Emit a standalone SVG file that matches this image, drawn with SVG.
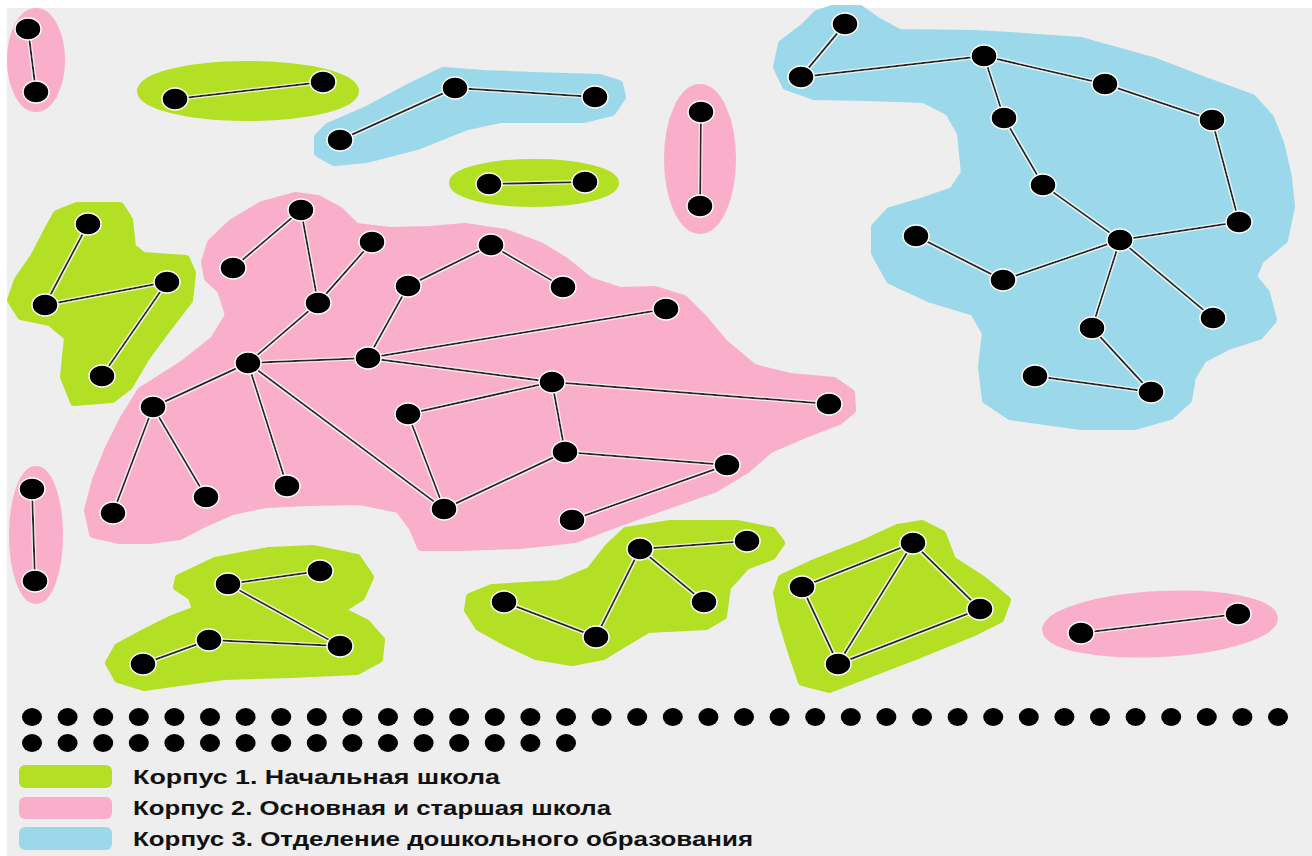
<svg xmlns="http://www.w3.org/2000/svg" xmlns:xlink="http://www.w3.org/1999/xlink" width="1312" height="856" viewBox="0 0 1312 856">
<style>
.pink{fill:#f9afc9;stroke:#f9afc9;stroke-width:8;stroke-linejoin:round}
.green{fill:#b3e024;stroke:#b3e024;stroke-width:8;stroke-linejoin:round}
.blue{fill:#9ad8ea;stroke:#9ad8ea;stroke-width:8;stroke-linejoin:round}
.e{stroke:#262626;stroke-width:2;fill:none}
.lg{font-family:"Liberation Sans",Arial,sans-serif;font-weight:bold;font-size:21px;fill:#111}
</style>
<defs>
<ellipse id="nd" cx="0" cy="0" rx="13" ry="11" fill="#000" stroke="#fff" stroke-width="1.5"/>
<ellipse id="dot" cx="0" cy="0" rx="10" ry="9" fill="#000"/>
<filter id="halo" x="-5%" y="-5%" width="110%" height="110%">
<feMorphology in="SourceAlpha" operator="dilate" radius="1" result="d"/>
<feFlood flood-color="#ffffff" flood-opacity="0.8"/>
<feComposite in2="d" operator="in" result="w"/>
<feMerge><feMergeNode in="w"/><feMergeNode in="SourceGraphic"/></feMerge>
</filter>
</defs>
<rect width="1312" height="856" fill="#ffffff"/>
<rect x="7" y="8" width="1305" height="848" fill="#eeeeee"/>

<g id="regions">
<ellipse class="pink" cx="36" cy="60" rx="25" ry="48"/>
<ellipse class="green" cx="248" cy="91" rx="107" ry="26"/>
<polygon class="blue" points="318,137 328,127 367,110 410,87 443,71 483,74 533,76 600,78 619,84 622,97 612,112 583,119 500,119 467,126 417,146 367,159 334,162 318,153"/>
<ellipse class="green" cx="534" cy="183" rx="81" ry="20"/>
<ellipse class="pink" cx="700" cy="159" rx="32" ry="71"/>
<polygon class="green" points="57,214 77,206 120,206 129,220 132,247 143,256 186,259 192,273 189,300 166,330 146,357 129,386 112,399 74,402 64,377 68,337 50,322 21,316 11,300 18,280 34,257 48,230"/>
<polygon class="pink" points="205,262 211,243 232,223 262,205 295,196 318,199 340,211 356,227 390,231 430,230 465,227 505,233 540,246 565,261 590,281 620,291 655,290 684,299 704,319 724,343 754,368 790,377 834,381 851,393 852,410 839,421 805,434 770,449 747,469 714,489 665,506 615,524 575,539 520,545 460,547 421,547 413,528 399,509 360,501 310,502 265,504 232,511 205,523 180,536 150,540 120,540 93,534 88,510 96,480 109,448 123,420 141,391 185,363 214,340 229,315 221,290 208,278"/>
<polygon class="blue" points="832,9 860,9 877,21 899,33 974,34 1010,36 1081,41 1153,61 1205,81 1252,98 1270,118 1280,143 1288,177 1291,207 1284,240 1260,260 1253,277 1266,293 1273,320 1259,336 1228,346 1203,359 1192,377 1188,400 1170,416 1135,426 1081,426 1010,416 986,400 982,367 986,333 974,312 931,299 890,280 875,253 875,227 890,211 924,201 953,191 965,173 961,133 949,112 924,99 867,97 814,96 786,86 777,67 782,44 803,28 817,14"/>
<ellipse class="pink" cx="36" cy="535" rx="23" ry="65"/>
<polygon class="green" points="179,578 215,561 269,551 313,549 357,558 370,577 361,597 340,610 366,623 381,640 379,659 357,671 291,674 224,676 179,682 144,687 118,679 109,663 118,647 144,633 170,620 196,610 192,597 177,587"/>
<polygon class="green" points="470,597 492,588 559,584 590,571 608,548 626,531 670,524 737,524 772,531 781,543 772,556 746,566 727,587 723,616 706,626 648,629 626,642 603,656 572,662 536,656 506,642 479,627 468,610"/>
<polygon class="green" points="777,593 782,578 812,564 863,544 898,528 922,524 942,534 952,560 983,580 1007,600 1000,619 974,632 915,656 863,676 829,689 802,682 792,653 782,620"/>
<ellipse class="pink" cx="1160" cy="624" rx="114" ry="29" transform="rotate(-3 1160 624)"/>
</g>

<g id="connectors" filter="url(#halo)">
<line class="e" x1="28" y1="29" x2="36" y2="92"/>
<line class="e" x1="175" y1="99" x2="323" y2="82"/>
<line class="e" x1="340" y1="140" x2="455" y2="88"/>
<line class="e" x1="455" y1="88" x2="595" y2="97"/>
<line class="e" x1="489" y1="184" x2="585" y2="182"/>
<line class="e" x1="701" y1="112" x2="700" y2="206"/>
<line class="e" x1="88" y1="224" x2="45" y2="305"/>
<line class="e" x1="45" y1="305" x2="167" y2="282"/>
<line class="e" x1="167" y1="282" x2="102" y2="376"/>
<line class="e" x1="301" y1="210" x2="233" y2="268"/>
<line class="e" x1="301" y1="210" x2="318" y2="303"/>
<line class="e" x1="372" y1="242" x2="318" y2="303"/>
<line class="e" x1="318" y1="303" x2="248" y2="363"/>
<line class="e" x1="248" y1="363" x2="368" y2="358"/>
<line class="e" x1="248" y1="363" x2="153" y2="407"/>
<line class="e" x1="153" y1="407" x2="113" y2="513"/>
<line class="e" x1="153" y1="407" x2="206" y2="497"/>
<line class="e" x1="248" y1="363" x2="287" y2="486"/>
<line class="e" x1="248" y1="363" x2="444" y2="509"/>
<line class="e" x1="368" y1="358" x2="408" y2="286"/>
<line class="e" x1="408" y1="286" x2="491" y2="245"/>
<line class="e" x1="491" y1="245" x2="563" y2="287"/>
<line class="e" x1="368" y1="358" x2="666" y2="309"/>
<line class="e" x1="368" y1="358" x2="552" y2="382"/>
<line class="e" x1="552" y1="382" x2="408" y2="414"/>
<line class="e" x1="408" y1="414" x2="444" y2="509"/>
<line class="e" x1="552" y1="382" x2="829" y2="404"/>
<line class="e" x1="552" y1="382" x2="565" y2="452"/>
<line class="e" x1="565" y1="452" x2="444" y2="509"/>
<line class="e" x1="565" y1="452" x2="727" y2="465"/>
<line class="e" x1="727" y1="465" x2="572" y2="520"/>
<line class="e" x1="845" y1="24" x2="801" y2="77"/>
<line class="e" x1="801" y1="77" x2="984" y2="56"/>
<line class="e" x1="984" y1="56" x2="1105" y2="84"/>
<line class="e" x1="984" y1="56" x2="1004" y2="118"/>
<line class="e" x1="1105" y1="84" x2="1212" y2="120"/>
<line class="e" x1="1004" y1="118" x2="1043" y2="185"/>
<line class="e" x1="1043" y1="185" x2="1120" y2="240"/>
<line class="e" x1="1212" y1="120" x2="1239" y2="222"/>
<line class="e" x1="1239" y1="222" x2="1120" y2="240"/>
<line class="e" x1="1120" y1="240" x2="1003" y2="280"/>
<line class="e" x1="1003" y1="280" x2="916" y2="236"/>
<line class="e" x1="1120" y1="240" x2="1092" y2="328"/>
<line class="e" x1="1120" y1="240" x2="1213" y2="318"/>
<line class="e" x1="1092" y1="328" x2="1151" y2="392"/>
<line class="e" x1="1151" y1="392" x2="1035" y2="376"/>
<line class="e" x1="32" y1="489" x2="35" y2="581"/>
<line class="e" x1="228" y1="584" x2="320" y2="571"/>
<line class="e" x1="228" y1="584" x2="340" y2="646"/>
<line class="e" x1="209" y1="640" x2="340" y2="646"/>
<line class="e" x1="209" y1="640" x2="143" y2="664"/>
<line class="e" x1="504" y1="602" x2="596" y2="637"/>
<line class="e" x1="596" y1="637" x2="640" y2="549"/>
<line class="e" x1="640" y1="549" x2="747" y2="541"/>
<line class="e" x1="640" y1="549" x2="704" y2="602"/>
<line class="e" x1="802" y1="587" x2="913" y2="543"/>
<line class="e" x1="913" y1="543" x2="838" y2="664"/>
<line class="e" x1="913" y1="543" x2="980" y2="609"/>
<line class="e" x1="802" y1="587" x2="838" y2="664"/>
<line class="e" x1="838" y1="664" x2="980" y2="609"/>
<line class="e" x1="1081" y1="633" x2="1238" y2="614"/>
</g>

<g id="nodes">
<g id="pa1"><use href="#nd" x="28" y="29"/></g>
<g id="pa2"><use href="#nd" x="36" y="92"/></g>
<g id="ga1"><use href="#nd" x="175" y="99"/></g>
<g id="ga2"><use href="#nd" x="323" y="82"/></g>
<g id="ba1"><use href="#nd" x="340" y="140"/></g>
<g id="ba2"><use href="#nd" x="455" y="88"/></g>
<g id="ba3"><use href="#nd" x="595" y="97"/></g>
<g id="gb1"><use href="#nd" x="489" y="184"/></g>
<g id="gb2"><use href="#nd" x="585" y="182"/></g>
<g id="pb1"><use href="#nd" x="701" y="112"/></g>
<g id="pb2"><use href="#nd" x="700" y="206"/></g>
<g id="gc1"><use href="#nd" x="88" y="224"/></g>
<g id="gc2"><use href="#nd" x="45" y="305"/></g>
<g id="gc3"><use href="#nd" x="167" y="282"/></g>
<g id="gc4"><use href="#nd" x="102" y="376"/></g>
<g id="pA"><use href="#nd" x="301" y="210"/></g>
<g id="pB"><use href="#nd" x="233" y="268"/></g>
<g id="pC"><use href="#nd" x="372" y="242"/></g>
<g id="pD"><use href="#nd" x="318" y="303"/></g>
<g id="pE"><use href="#nd" x="491" y="245"/></g>
<g id="pF"><use href="#nd" x="408" y="286"/></g>
<g id="pG"><use href="#nd" x="563" y="287"/></g>
<g id="pH"><use href="#nd" x="666" y="309"/></g>
<g id="pI"><use href="#nd" x="248" y="363"/></g>
<g id="pJ"><use href="#nd" x="368" y="358"/></g>
<g id="pK"><use href="#nd" x="153" y="407"/></g>
<g id="pL"><use href="#nd" x="113" y="513"/></g>
<g id="pM"><use href="#nd" x="206" y="497"/></g>
<g id="pN"><use href="#nd" x="287" y="486"/></g>
<g id="pO"><use href="#nd" x="552" y="382"/></g>
<g id="pP"><use href="#nd" x="408" y="414"/></g>
<g id="pQ"><use href="#nd" x="829" y="404"/></g>
<g id="pR"><use href="#nd" x="565" y="452"/></g>
<g id="pS"><use href="#nd" x="727" y="465"/></g>
<g id="pT"><use href="#nd" x="444" y="509"/></g>
<g id="pU"><use href="#nd" x="572" y="520"/></g>
<g id="b1"><use href="#nd" x="845" y="24"/></g>
<g id="b2"><use href="#nd" x="801" y="77"/></g>
<g id="b3"><use href="#nd" x="984" y="56"/></g>
<g id="b4"><use href="#nd" x="1105" y="84"/></g>
<g id="b5"><use href="#nd" x="1004" y="118"/></g>
<g id="b6"><use href="#nd" x="1212" y="120"/></g>
<g id="b7"><use href="#nd" x="1043" y="185"/></g>
<g id="b8"><use href="#nd" x="1239" y="222"/></g>
<g id="b9"><use href="#nd" x="1120" y="240"/></g>
<g id="b10"><use href="#nd" x="916" y="236"/></g>
<g id="b11"><use href="#nd" x="1003" y="280"/></g>
<g id="b12"><use href="#nd" x="1213" y="318"/></g>
<g id="b13"><use href="#nd" x="1092" y="328"/></g>
<g id="b14"><use href="#nd" x="1035" y="376"/></g>
<g id="b15"><use href="#nd" x="1151" y="392"/></g>
<g id="pc1"><use href="#nd" x="32" y="489"/></g>
<g id="pc2"><use href="#nd" x="35" y="581"/></g>
<g id="gd1"><use href="#nd" x="228" y="584"/></g>
<g id="gd2"><use href="#nd" x="320" y="571"/></g>
<g id="gd3"><use href="#nd" x="209" y="640"/></g>
<g id="gd4"><use href="#nd" x="340" y="646"/></g>
<g id="gd5"><use href="#nd" x="143" y="664"/></g>
<g id="ge1"><use href="#nd" x="504" y="602"/></g>
<g id="ge2"><use href="#nd" x="596" y="637"/></g>
<g id="ge3"><use href="#nd" x="640" y="549"/></g>
<g id="ge4"><use href="#nd" x="747" y="541"/></g>
<g id="ge5"><use href="#nd" x="704" y="602"/></g>
<g id="gf1"><use href="#nd" x="802" y="587"/></g>
<g id="gf2"><use href="#nd" x="913" y="543"/></g>
<g id="gf3"><use href="#nd" x="980" y="609"/></g>
<g id="gf4"><use href="#nd" x="838" y="664"/></g>
<g id="pd1"><use href="#nd" x="1081" y="633"/></g>
<g id="pd2"><use href="#nd" x="1238" y="614"/></g>
</g>

<g id="isolated">
<g id="d1"><use href="#dot" x="32" y="717"/></g>
<g id="d2"><use href="#dot" x="67.6" y="717"/></g>
<g id="d3"><use href="#dot" x="103.2" y="717"/></g>
<g id="d4"><use href="#dot" x="138.8" y="717"/></g>
<g id="d5"><use href="#dot" x="174.4" y="717"/></g>
<g id="d6"><use href="#dot" x="210" y="717"/></g>
<g id="d7"><use href="#dot" x="245.6" y="717"/></g>
<g id="d8"><use href="#dot" x="281.2" y="717"/></g>
<g id="d9"><use href="#dot" x="316.8" y="717"/></g>
<g id="d10"><use href="#dot" x="352.4" y="717"/></g>
<g id="d11"><use href="#dot" x="388" y="717"/></g>
<g id="d12"><use href="#dot" x="423.6" y="717"/></g>
<g id="d13"><use href="#dot" x="459.2" y="717"/></g>
<g id="d14"><use href="#dot" x="494.8" y="717"/></g>
<g id="d15"><use href="#dot" x="530.4" y="717"/></g>
<g id="d16"><use href="#dot" x="566" y="717"/></g>
<g id="d17"><use href="#dot" x="601.6" y="717"/></g>
<g id="d18"><use href="#dot" x="637.2" y="717"/></g>
<g id="d19"><use href="#dot" x="672.8" y="717"/></g>
<g id="d20"><use href="#dot" x="708.4" y="717"/></g>
<g id="d21"><use href="#dot" x="744" y="717"/></g>
<g id="d22"><use href="#dot" x="779.6" y="717"/></g>
<g id="d23"><use href="#dot" x="815.2" y="717"/></g>
<g id="d24"><use href="#dot" x="850.8" y="717"/></g>
<g id="d25"><use href="#dot" x="886.4" y="717"/></g>
<g id="d26"><use href="#dot" x="922" y="717"/></g>
<g id="d27"><use href="#dot" x="957.6" y="717"/></g>
<g id="d28"><use href="#dot" x="993.2" y="717"/></g>
<g id="d29"><use href="#dot" x="1028.8" y="717"/></g>
<g id="d30"><use href="#dot" x="1064.4" y="717"/></g>
<g id="d31"><use href="#dot" x="1100" y="717"/></g>
<g id="d32"><use href="#dot" x="1135.6" y="717"/></g>
<g id="d33"><use href="#dot" x="1171.2" y="717"/></g>
<g id="d34"><use href="#dot" x="1206.8" y="717"/></g>
<g id="d35"><use href="#dot" x="1242.4" y="717"/></g>
<g id="d36"><use href="#dot" x="1278" y="717"/></g>
<g id="d37"><use href="#dot" x="32" y="743"/></g>
<g id="d38"><use href="#dot" x="67.6" y="743"/></g>
<g id="d39"><use href="#dot" x="103.2" y="743"/></g>
<g id="d40"><use href="#dot" x="138.8" y="743"/></g>
<g id="d41"><use href="#dot" x="174.4" y="743"/></g>
<g id="d42"><use href="#dot" x="210" y="743"/></g>
<g id="d43"><use href="#dot" x="245.6" y="743"/></g>
<g id="d44"><use href="#dot" x="281.2" y="743"/></g>
<g id="d45"><use href="#dot" x="316.8" y="743"/></g>
<g id="d46"><use href="#dot" x="352.4" y="743"/></g>
<g id="d47"><use href="#dot" x="388" y="743"/></g>
<g id="d48"><use href="#dot" x="423.6" y="743"/></g>
<g id="d49"><use href="#dot" x="459.2" y="743"/></g>
<g id="d50"><use href="#dot" x="494.8" y="743"/></g>
<g id="d51"><use href="#dot" x="530.4" y="743"/></g>
<g id="d52"><use href="#dot" x="566" y="743"/></g>
</g>

<g id="legend">
<rect x="19" y="765" width="93" height="23" rx="6" fill="#b3e024"/>
<rect x="19" y="797" width="93" height="22" rx="6" fill="#f9afc9"/>
<rect x="19" y="827" width="93" height="23" rx="6" fill="#9ad8ea"/>
<text class="lg" x="133" y="784" textLength="367" lengthAdjust="spacingAndGlyphs">Корпус 1. Начальная школа</text>
<text class="lg" x="133" y="815" textLength="478" lengthAdjust="spacingAndGlyphs">Корпус 2. Основная и старшая школа</text>
<text class="lg" x="133" y="846" textLength="620" lengthAdjust="spacingAndGlyphs">Корпус 3. Отделение дошкольного образования</text>
</g>
</svg>
